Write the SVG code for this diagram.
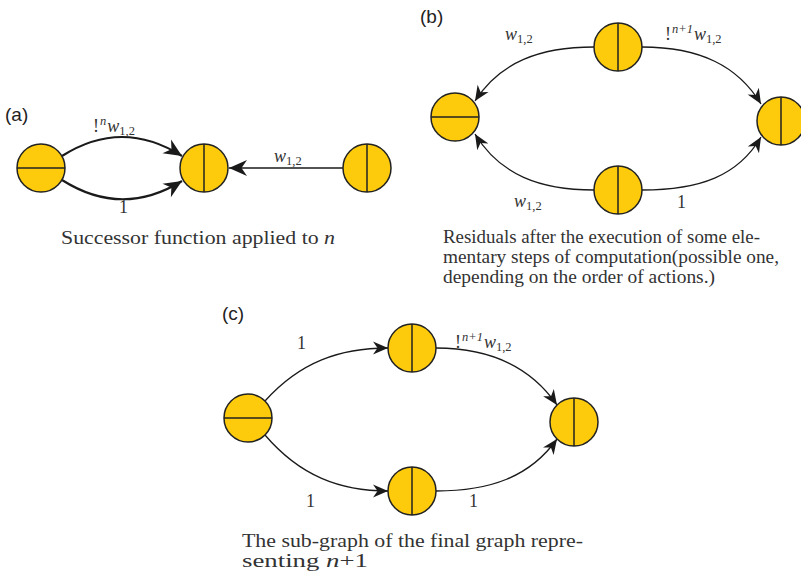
<svg xmlns="http://www.w3.org/2000/svg" width="801" height="572" viewBox="0 0 801 572">
  <style>
    .node { fill: #FDCB0B; stroke: #222; stroke-width: 1.5; }
    .split { stroke: #222; stroke-width: 1.5; }
    .edge { fill: none; stroke: #1a1a1a; stroke-width: 1.3; }
    .edge-bold { fill: none; stroke: #1a1a1a; stroke-width: 2.2; }
    .panel { font-family: "Liberation Sans", Arial, sans-serif; font-size: 19px; fill: #222; }
    .cap { font-family: "Liberation Serif", "Times New Roman", serif; font-size: 18px; fill: #333; }
    .lbl { font-family: "Liberation Serif", "Times New Roman", serif; font-size: 18px; fill: #333; }
    .it { font-style: italic; }
    .sub { font-size: 12.5px; }
    .sup { font-size: 12.5px; font-style: italic; }
  </style>
  <defs>
    <marker id="arrow" markerUnits="userSpaceOnUse" viewBox="-16 -8 18 16" refX="0" refY="0" markerWidth="18" markerHeight="16" orient="auto">
      <path d="M0,0 L-15,-6.5 L-10.5,0 L-15,6.5 Z" fill="#1a1a1a"/>
    </marker>
    <marker id="arrow-lg" markerUnits="userSpaceOnUse" viewBox="-19 -9 21 18" refX="0" refY="0" markerWidth="21" markerHeight="18" orient="auto">
      <path d="M0,0 L-18,-8 L-12.5,0 L-18,8 Z" fill="#1a1a1a"/>
    </marker>
  </defs>

  <!-- panel letters -->
  <text class="panel" x="5" y="121">(a)</text>
  <text class="panel" x="420" y="23">(b)</text>
  <text class="panel" x="222" y="320">(c)</text>

  <!-- connectors -->
  <g id="connectors">
    <!-- (a) -->
    <path class="edge-bold" d="M62,156 Q122,118 182,156" marker-end="url(#arrow-lg)"/>
    <path class="edge-bold" d="M62,180 Q122,218 182,181" marker-end="url(#arrow-lg)"/>
    <path class="edge" d="M343,168 L229,168" marker-end="url(#arrow-lg)"/>
    <!-- (b) -->
    <path class="edge" d="M594,47 C540,47 500,62 475,101" marker-end="url(#arrow)"/>
    <path class="edge" d="M594,190 C540,190 500,175 475,134" marker-end="url(#arrow)"/>
    <path class="edge" d="M642,47 C700,47 738,66 761,104" marker-end="url(#arrow)"/>
    <path class="edge" d="M642,190 C700,190 738,176 761,137" marker-end="url(#arrow)"/>
    <!-- (c) -->
    <path class="edge" d="M265,401 C300,362 340,348 388,348" marker-end="url(#arrow)"/>
    <path class="edge" d="M265,435 C300,476 340,491 388,491" marker-end="url(#arrow)"/>
    <path class="edge" d="M436,348 C490,348 530,366 557,405" marker-end="url(#arrow)"/>
    <path class="edge" d="M436,491 C490,491 530,477 557,439" marker-end="url(#arrow)"/>
  </g>

  <!-- (a) nodes -->
  <g id="a-left"><circle class="node" cx="41" cy="168" r="24"/><line class="split" x1="17" y1="168" x2="65" y2="168"/></g>
  <g id="a-mid"><circle class="node" cx="204" cy="168" r="24"/><line class="split" x1="204" y1="144" x2="204" y2="192"/></g>
  <g id="a-right"><circle class="node" cx="367" cy="168" r="24"/><line class="split" x1="367" y1="144" x2="367" y2="192"/></g>

  <!-- (b) nodes -->
  <g id="b-left"><circle class="node" cx="455" cy="117" r="24"/><line class="split" x1="431" y1="117" x2="479" y2="117"/></g>
  <g id="b-top"><circle class="node" cx="618" cy="47" r="24"/><line class="split" x1="618" y1="23" x2="618" y2="71"/></g>
  <g id="b-bottom"><circle class="node" cx="618" cy="190" r="24"/><line class="split" x1="618" y1="166" x2="618" y2="214"/></g>
  <g id="b-right"><circle class="node" cx="781" cy="121" r="24"/><line class="split" x1="781" y1="97" x2="781" y2="145"/></g>

  <!-- (c) nodes -->
  <g id="c-left"><circle class="node" cx="248" cy="418" r="24"/><line class="split" x1="224" y1="418" x2="272" y2="418"/></g>
  <g id="c-top"><circle class="node" cx="412" cy="348" r="24"/><line class="split" x1="412" y1="324" x2="412" y2="372"/></g>
  <g id="c-bottom"><circle class="node" cx="412" cy="491" r="24"/><line class="split" x1="412" y1="467" x2="412" y2="515"/></g>
  <g id="c-right"><circle class="node" cx="574" cy="422" r="24"/><line class="split" x1="574" y1="398" x2="574" y2="446"/></g>

  <!-- edge labels -->
  <g id="labels">
    <!-- (a) -->
    <text class="lbl" x="93" y="132">!<tspan class="sup" dx="1" dy="-7">n</tspan><tspan class="it" dx="1" dy="7">w</tspan><tspan class="sub" dy="3">1,2</tspan></text>
    <text class="lbl" x="119" y="213">1</text>
    <text class="lbl" x="274" y="162"><tspan class="it">w</tspan><tspan class="sub" dy="3">1,2</tspan></text>
    <!-- (b) -->
    <text class="lbl" x="505" y="40"><tspan class="it">w</tspan><tspan class="sub" dy="3">1,2</tspan></text>
    <text class="lbl" x="665" y="40">!<tspan class="sup" dx="1" dy="-7">n+1</tspan><tspan class="it" dx="1" dy="7">w</tspan><tspan class="sub" dy="3">1,2</tspan></text>
    <text class="lbl" x="514" y="207"><tspan class="it">w</tspan><tspan class="sub" dy="3">1,2</tspan></text>
    <text class="lbl" x="677" y="208">1</text>
    <!-- (c) -->
    <text class="lbl" x="297" y="349">1</text>
    <text class="lbl" x="455" y="348">!<tspan class="sup" dx="1" dy="-7">n+1</tspan><tspan class="it" dx="1" dy="7">w</tspan><tspan class="sub" dy="3">1,2</tspan></text>
    <text class="lbl" x="306" y="507">1</text>
    <text class="lbl" x="469" y="507">1</text>
  </g>

  <!-- captions -->
  <g id="captions">
    <text class="cap" x="61" y="244" textLength="274" lengthAdjust="spacingAndGlyphs">Successor function applied to <tspan class="it">n</tspan></text>
    <text class="cap" x="443" y="243" textLength="317" lengthAdjust="spacingAndGlyphs">Residuals after the execution of some ele-</text>
    <text class="cap" x="443" y="263" textLength="336" lengthAdjust="spacingAndGlyphs">mentary steps of computation(possible one,</text>
    <text class="cap" x="443" y="283" textLength="272" lengthAdjust="spacingAndGlyphs">depending on the order of actions.)</text>
    <text class="cap" x="242" y="547" textLength="341" lengthAdjust="spacingAndGlyphs">The sub-graph of the final graph repre-</text>
    <text class="cap" x="242" y="567" textLength="126" lengthAdjust="spacingAndGlyphs">senting <tspan class="it">n</tspan>+1</text>
  </g>
</svg>
